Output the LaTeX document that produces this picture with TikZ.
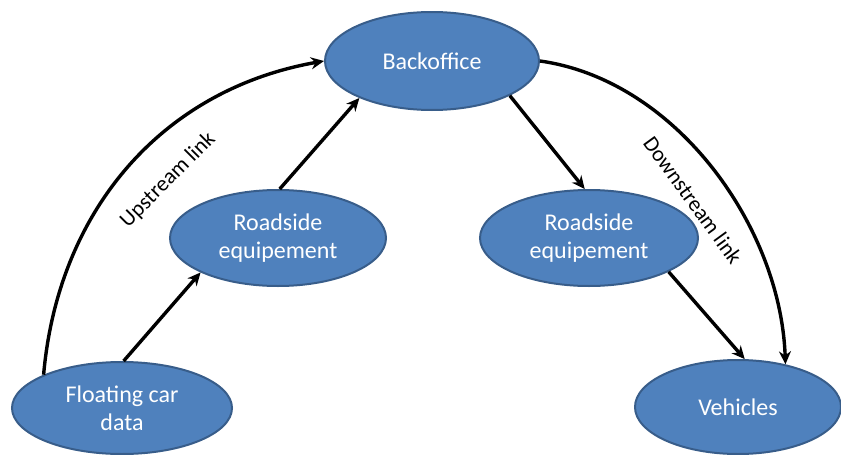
\documentclass[tikz,border=0pt]{standalone}
\usepackage{fontspec}
\setmainfont{Carlito}
\usetikzlibrary{shapes.geometric,arrows.meta}
\definecolor{boxfill}{HTML}{4F81BD}
\definecolor{boxline}{HTML}{385D8A}
\tikzset{
  blob/.style={ellipse, fill=boxfill, draw=boxline, line width=2pt, inner sep=0pt,
    text=white, align=center, font=\fontsize{24}{28}\selectfont},
  link/.style={line width=3.4pt, -{Stealth[length=13pt,width=12pt]}},
  lbl/.style={font=\fontsize{22}{26}\selectfont, text=black}
}
\begin{document}
\begin{tikzpicture}[x=1pt,y=-1pt]
\useasboundingbox (0,0) rectangle (841,455);
\node[blob, minimum width=214pt, minimum height=98pt] (bo) at (432,61) {Backoffice};
\node[blob, minimum width=216pt, minimum height=96pt] (rs1) at (278,238) {Roadside\\equipement};
\node[blob, minimum width=218pt, minimum height=96pt] (rs2) at (589,238) {Roadside\\equipement};
\node[blob, minimum width=220pt, minimum height=92pt] (fcd) at (122,408) {Floating car\\data};
\node[blob, minimum width=206pt, minimum height=94pt] (veh) at (738,407) {Vehicles};

\draw[link] (fcd.88) -- (rs1.204);
\draw[link] (rs1.88) -- (bo.207);
\draw[link] (bo.-24) -- (rs2.95);
\draw[link] (rs2.-23) -- (veh.82);
\draw[link] (fcd.157) to[out=85,in=190] (bo.west);
\draw[link] (bo.east) to[out=-8,in=92,looseness=0.9] (veh.42);

\node[lbl, rotate=45] (up) at (168,180) {Upstream link};
\node[lbl, rotate=-54] (down) at (693,200) {Downstream link};
\end{tikzpicture}
\end{document}
